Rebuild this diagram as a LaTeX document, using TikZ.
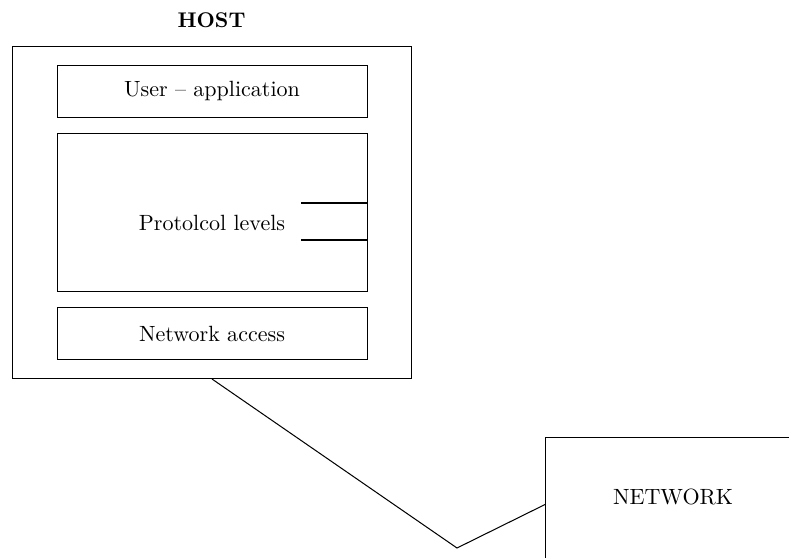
\documentclass[tikz,border=0pt]{standalone}
\begin{document}
\begin{tikzpicture}[x=0.49pt,y=-0.49pt,
  box/.style={draw,line width=0.5pt,inner sep=0pt,anchor=north west},
  txt/.style={font=\fontsize{10.8}{13}\selectfont}]
\useasboundingbox (0,0) rectangle (789,558);
\node[font=\fontsize{10.4}{12}\selectfont\bfseries] (hostlbl) at (211.5,20) {HOST};
\node[box,minimum width=399*0.49pt,minimum height=332*0.49pt] (host) at (12,46) {};
\node[box,minimum width=310*0.49pt,minimum height=52*0.49pt] (user) at (57,65) {};
\node[txt] (usertxt) at (212,91) {User -- application};
\node[box,minimum width=310*0.49pt,minimum height=158*0.49pt] (proto) at (57,133) {};
\node[txt] (prototxt) at (212,223) {Protolcol levels};
\node[box,minimum width=310*0.49pt,minimum height=52*0.49pt] (netacc) at (57,307) {};
\node[txt] (netacctxt) at (212,334) {Network access};
\coordinate (l1) at (301,203);
\coordinate (l2) at (301,240);
\draw[line width=0.5pt] (l1) -- (l1 -| proto.east);
\draw[line width=0.5pt] (l2) -- (l2 -| proto.east);
\node[box,minimum width=256*0.49pt,minimum height=134*0.49pt] (net) at (545,437) {};
\node[txt] (nettxt) at (673,497) {NETWORK};
\coordinate (bend) at (457,548);
\draw[line width=0.5pt] (host.south) -- (bend) -- (net.west);
\end{tikzpicture}
\end{document}
